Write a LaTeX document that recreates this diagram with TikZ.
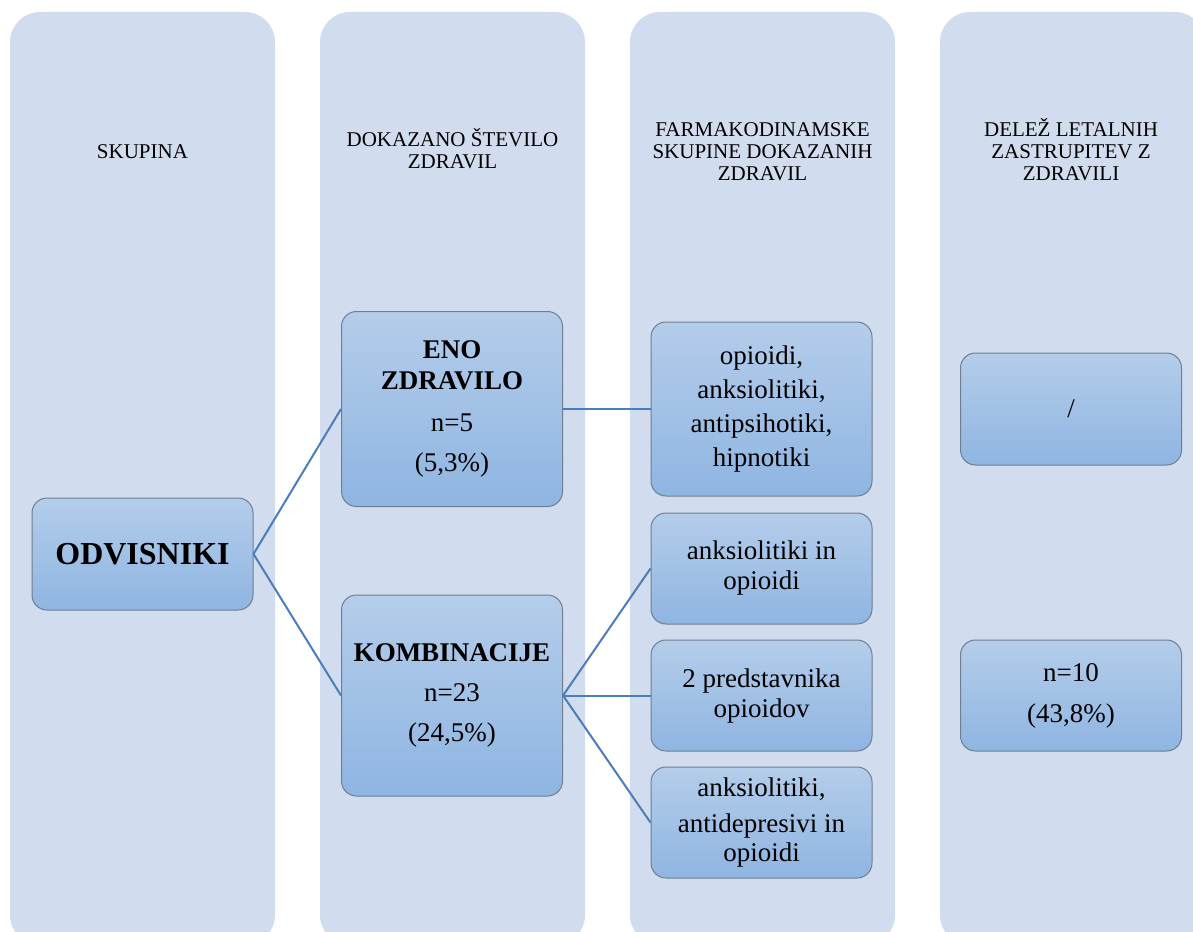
\documentclass[tikz,border=0pt]{standalone}
\usepackage{fontspec}
\setmainfont{Liberation Serif}
\usetikzlibrary{positioning}
\definecolor{colfill}{HTML}{D1DCEE}
\definecolor{boxtop}{HTML}{B4CDEA}
\definecolor{boxbot}{HTML}{8FB5E2}
\definecolor{boxline}{HTML}{6E7F92}
\definecolor{linkblue}{HTML}{4A7EBB}
\tikzset{x=0.5pt, y=-0.5pt, % one unit is one pixel of the reference
column/.style={fill=colfill, rounded corners=15pt, minimum width=132.5pt, minimum height=466.5pt, inner sep=0pt}, % light background column
head/.style={align=center, font=\fontsize{10.5}{11}\selectfont}, % column titles
box/.style={draw=boxline, line width=0.5pt, rounded corners=7.5pt, top color=boxtop, bottom color=boxbot, align=center, inner sep=0pt, minimum width=110.5pt, font=\fontsize{13.5}{15}\selectfont}, % shaded boxes
link/.style={draw=linkblue, line width=1pt}, % connectors
}

\begin{document}
\begin{tikzpicture}
\useasboundingbox (0,0) rectangle (1193,931);
\clip (0,0) rectangle (1193,931);
% columns
\node[column] (c1) at (142.5,478.5) {};
\node[column] (c2) at (452.5,478.5) {};
\node[column] (c3) at (762.5,478.5) {};
\node[column] (c4) at (1072.5,478.5) {};
\node[head] (h1) at (142.5,152) {SKUPINA};
\node[head] (h2) at (452.5,149) {DOKAZANO ŠTEVILO\\ZDRAVIL};
\node[head] (h3) at (762.5,151.5) {FARMAKODINAMSKE\\SKUPINE DOKAZANIH\\ZDRAVIL};
\node[head] (h4) at (1071,150) {DELEŽ LETALNIH\\ZASTRUPITEV Z\\ZDRAVILI};
% boxes
\node[box, minimum height=56pt, font=\fontsize{16}{18}\selectfont\bfseries] (odv) at (142.5,554) {ODVISNIKI};
\node[box, minimum height=97.5pt, font=\fontsize{13.5}{15.5}\selectfont] (eno) at (452,409) {\textbf{ENO}\\\textbf{ZDRAVILO}\\[5.5pt]n=5\\[4.5pt](5,3\%)};
\node[box, minimum height=100.5pt, font=\fontsize{13.5}{20}\selectfont] (komb) at (452,695.5) {\textbf{KOMBINACIJE}\\n=23\\(24,5\%)};
\node[box, minimum height=87pt, font=\fontsize{13.5}{17}\selectfont] (far1) at (761.5,409) {opioidi,\\anksiolitiki,\\antipsihotiki,\\hipnotiki};
\node[box, minimum height=55.5pt] (far2) at (761.5,568.5) {anksiolitiki in\\opioidi};
\node[box, minimum height=55.5pt] (far3) at (761.5,695.5) {2 predstavnika\\opioidov};
\node[box, minimum height=55.5pt, font=\fontsize{13.5}{14.5}\selectfont] (far4) at (761.5,822.5) {anksiolitiki,\\[3.5pt]antidepresivi in\\opioidi};
\node[box, minimum height=56pt] (let1) at (1071,409) {/};
\node[box, minimum height=55.5pt, font=\fontsize{13.5}{20.5}\selectfont] (let2) at (1071,695.5) {n=10\\(43,8\%)};
% connectors
\draw[link] (odv.east) -- (eno.west);
\draw[link] (odv.east) -- (komb.west);
\draw[link] (eno.east) -- (far1.west);
\draw[link] (komb.east) -- (far2.west);
\draw[link] (komb.east) -- (far3.west);
\draw[link] (komb.east) -- (far4.west);
\end{tikzpicture}
\end{document}
